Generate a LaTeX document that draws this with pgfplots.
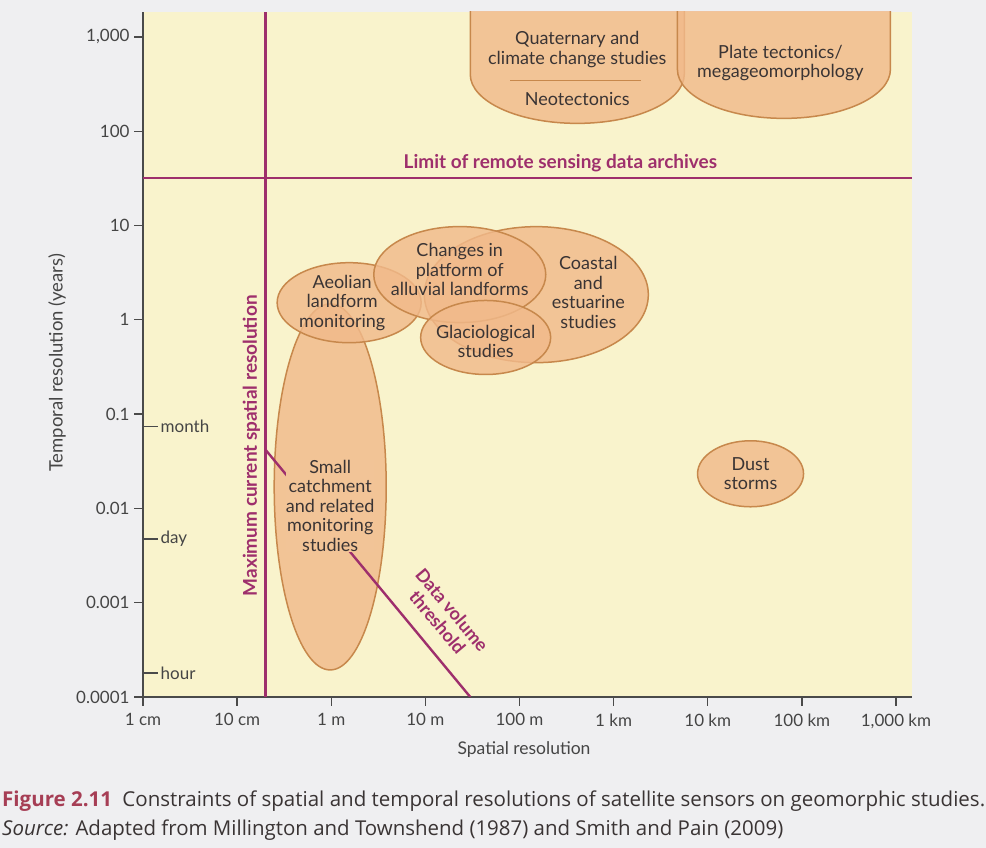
\documentclass[border=0pt]{standalone}
\usepackage{pgfplots}
\pgfplotsset{compat=1.18}
\usepackage{fontspec}
\usepackage{graphicx}
\setmainfont{Lato}
\newfontfamily\capfont{Open Sans}
\definecolor{pagebg}{HTML}{EFEFF1}
\definecolor{yellowbg}{HTML}{F9F3CC}
\definecolor{orangefill}{HTML}{F1BA8B}
\definecolor{orangevis}{HTML}{F2C497}
\definecolor{outline}{HTML}{C7884C}
\definecolor{magline}{HTML}{9E2F6C}
\definecolor{txt}{HTML}{3A3434}
\definecolor{axisgray}{HTML}{4A4A4A}
\definecolor{tickgray}{HTML}{454545}
\definecolor{capred}{HTML}{A63E55}
\tikzset{
  blob/.style={fill=orangefill, fill opacity=0.82, draw=outline, line width=1.5pt},
  lab/.style={text=txt, align=center, font=\fontsize{18}{19.5}\selectfont},
  mag/.style={draw=magline, line width=2.4pt},
  maglab/.style={text=magline, font=\bfseries\fontsize{19}{20}\selectfont},
  tk/.style={line width=1.3pt, draw=axisgray},
  tklab/.style={right, inner sep=2pt, text=tickgray, font=\fontsize{17}{18}\selectfont},
}
\begin{document}
\begin{tikzpicture}[x=1pt,y=1pt]
\fill[pagebg] (0,0) rectangle (986,848);
\path[use as bounding box] (0,0) rectangle (986,848);
\begin{axis}[
  at={(143pt,151pt)}, anchor=south west,
  scale only axis, width=769pt, height=685pt,
  xmode=log, ymode=log,
  xmin=0.01, xmax=1.48e6, ymin=1e-4, ymax=1840,
  axis x line=bottom, axis y line=left,
  axis line style={-, line width=1.6pt, draw=axisgray},
  axis background/.style={fill=yellowbg},
  xtick={0.01,0.1,1,10,100,1000,10000,100000,1000000},
  xticklabels={1 cm,10 cm,1 m,10 m,100 m,1 km,10 km,100 km,{1,000 km}},
  ytick={0.0001,0.001,0.01,0.1,1,10,100,1000},
  yticklabels={0.0001,0.001,0.01,0.1,1,10,100,{1,000}},
  xminorticks=false, yminorticks=false,
  tick align=outside, major tick length=9pt,
  tick style={line width=1.3pt, draw=axisgray},
  ticklabel style={font=\fontsize{17}{18}\selectfont, text=tickgray},
  yticklabel style={xshift=-1pt},
  xticklabel style={yshift=-4pt},
  /pgf/number format/assume math mode=true,
]
% shapes, bottom to top
\draw[blob] (axis cs:151,1.85) ellipse [x radius=112pt, y radius=68pt];
\draw[blob] (axis cs:0.975,0.0169) ellipse [x radius=56pt, y radius=183pt];
\draw[blob] (axis cs:1.55,1.52) ellipse [x radius=72pt, y radius=40pt];
\draw[blob] (axis cs:23.2,3.02) ellipse [x radius=86pt, y radius=48pt];
\draw[blob] (axis cs:43.7,0.65) ellipse [x radius=65pt, y radius=37pt];
\draw[blob] (axis cs:28500,0.0233) ellipse [x radius=53pt, y radius=33pt];
\draw[blob] (axis cs:411,401) ++(-107pt,80pt) -- ++(0pt,-80pt)
  arc[start angle=180, end angle=360, x radius=107pt, y radius=49pt] -- ++(0pt,80pt) -- cycle;
\draw[blob] (axis cs:64500,453) ++(-106.5pt,80pt) -- ++(0pt,-80pt)
  arc[start angle=180, end angle=360, x radius=106.5pt, y radius=49pt] -- ++(0pt,80pt) -- cycle;
\draw[draw=outline, line width=1.5pt] (axis cs:411,401) ++(-67pt,-6pt) -- ++(131pt,0pt);
% constraint lines
\addplot[mag] coordinates {(0.2,0.0001) (0.2,1840)};
\addplot[mag] coordinates {(0.01,32) (1.48e6,32)};
\addplot[mag] coordinates {(0.2,0.042) (30,0.0001)};
% month/day/hour
\draw[tk] (axis cs:0.01,0.0734) -- ++(15pt,0pt) node[tklab] {month};
\draw[tk] (axis cs:0.01,0.00475) -- ++(15pt,0pt) node[tklab] {day};
\draw[tk] (axis cs:0.01,0.00018) -- ++(15pt,0pt) node[tklab] {hour};
% texts
\node[lab] at (axis cs:411,401) [yshift=25pt] {Quaternary and\\climate change studies};
\node[lab] at (axis cs:411,401) [yshift=-25pt] {Neotectonics};
\node[lab] at (axis cs:64500,453) [xshift=-3.5pt, yshift=6.5pt] {Plate tectonics/\\megageomorphology};
\node[lab] at (axis cs:1.55,1.52) [xshift=-7pt] {Aeolian\\landform\\monitoring};
\node[lab] at (axis cs:23.2,3.02) [yshift=5pt] {Changes in\\platform of\\alluvial landforms};
\node[lab] at (axis cs:151,1.85) [xshift=52pt, yshift=2pt] {Coastal\\and\\estuarine\\studies};
\node[lab] at (axis cs:43.7,0.65) [yshift=-4pt] {Glaciological\\studies};
\node[lab, fill=orangevis, inner sep=0pt] at (axis cs:0.975,0.0169) [yshift=-19pt] {Small\\catchment\\and related\\monitoring\\studies};
\node[lab] at (axis cs:28500,0.0233) {Dust\\storms};
\node[maglab, anchor=base] at (axis cs:272,40.3) {Limit of remote sensing data archives};
\node[maglab, rotate=90] at (axis cs:0.142,0.0462) {Maximum current spatial resolution};
\node[maglab, rotate=-50, align=center, font=\bfseries\fontsize{18}{19}\selectfont] at (axis cs:16.1,7.24e-4) {Data volume\\threshold};
\end{axis}
\node[text=tickgray, font=\fontsize{17.5}{18}\selectfont] at (524,98) {Spatial resolution};
\node[text=tickgray, font=\fontsize{18.5}{19}\selectfont, rotate=90] at (57,485) {Temporal resolution (years)};
\node[anchor=base west, inner sep=0pt] at (2,41) {\resizebox{983pt}{!}{\capfont\color{txt}{\bfseries\color{capred}Figure 2.11}\enspace Constraints of spatial and temporal resolutions of satellite sensors on geomorphic studies.}};
\node[anchor=base west, inner sep=0pt] at (2,12) {\resizebox{781pt}{!}{\capfont\color{txt}\textit{Source:} Adapted from Millington and Townshend (1987) and Smith and Pain (2009)}};
\end{tikzpicture}
\end{document}
